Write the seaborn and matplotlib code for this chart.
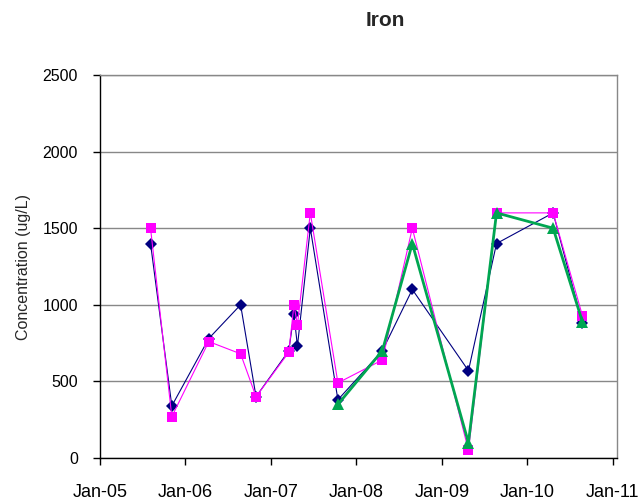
import pandas as pd
import numpy as np
import matplotlib
matplotlib.use("Agg")
import matplotlib.pyplot as plt
import seaborn as sns

# sample dates and iron results (ug/L)
blue_dates = ["2005-08-05", "2005-11-04", "2006-04-11", "2006-08-25", "2006-10-30",
              "2007-03-19", "2007-04-10", "2007-04-25", "2007-06-19", "2007-10-15",
              "2008-04-22", "2008-08-28", "2009-04-25", "2009-08-23", "2010-04-22",
              "2010-08-25"]
blue_vals = [1400, 340, 780, 1000, 400, 700, 940, 730, 1500, 380, 700, 1100, 570, 1400, 1600, 880]

pink_dates = blue_dates
pink_vals = [1500, 270, 760, 680, 400, 690, 1000, 870, 1600, 490, 640, 1500, 50, 1600, 1600, 930]

green_dates = ["2007-10-15", "2008-04-22", "2008-08-28", "2009-04-25", "2009-08-23",
               "2010-04-22", "2010-08-25"]
green_vals = [350, 700, 1400, 100, 1600, 1500, 890]

xtick_labels = ["Jan-05", "Jan-06", "Jan-07", "Jan-08", "Jan-09", "Jan-10", "Jan-11"]

sns.set_style("white")
plt.rcParams['font.family'] = ['Liberation Sans', 'DejaVu Sans']

fig = plt.figure(figsize=(6.39, 5.01), dpi=100)
ax = fig.add_axes([100 / 639, 1 - 458 / 501, 517 / 639, 383 / 501])

blue = pd.DataFrame({"date": pd.to_datetime(blue_dates), "val": blue_vals})
pink = pd.DataFrame({"date": pd.to_datetime(pink_dates), "val": pink_vals})
green = pd.DataFrame({"date": pd.to_datetime(green_dates), "val": green_vals})

sns.lineplot(data=blue, x="date", y="val", ax=ax, color="#000080", marker="D",
             markersize=6, markeredgewidth=0, linewidth=0.8, estimator=None, sort=False)
sns.lineplot(data=pink, x="date", y="val", ax=ax, color="#FF00FF", marker="s",
             markersize=7, markeredgewidth=0, linewidth=0.8, estimator=None, sort=False)
sns.lineplot(data=green, x="date", y="val", ax=ax, color="#00A651", marker="^",
             markersize=8, markeredgewidth=0, linewidth=2.0, estimator=None, sort=False)

ax.set_xlim(pd.Timestamp("2005-01-01"), pd.Timestamp("2011-01-20"))
ax.set_ylim(0, 2500)
ax.set_yticks(np.arange(0, 2501, 500))
ax.set_xticks(pd.to_datetime(["%d-01-01" % y for y in range(2005, 2012)]))
ax.set_xticklabels(xtick_labels)

ax.yaxis.grid(True, color="#888888", linewidth=1.0)
ax.xaxis.grid(False)
ax.set_axisbelow(True)

ax.spines["left"].set_color("black")
ax.spines["bottom"].set_color("black")
ax.spines["right"].set_color("#888888")
ax.spines["top"].set_color("#888888")
for s in ax.spines.values():
    s.set_linewidth(1.0)

ax.tick_params(axis="x", direction="out", length=5, width=1, pad=14, labelsize=13, colors="black")
ax.tick_params(axis="y", direction="out", length=5, width=1, pad=11, labelsize=11.5, colors="black")
ax.xaxis.set_ticks_position("bottom")
ax.yaxis.set_ticks_position("left")

ax.set_xlabel("")
ax.set_ylabel("Concentration (ug/L)", fontsize=11.5, labelpad=8)

fig.text(385 / 639, 1 - 21 / 501, "Iron", ha="center", va="center", fontsize=15, fontweight="bold")

fig.savefig("out.png", dpi=100)
